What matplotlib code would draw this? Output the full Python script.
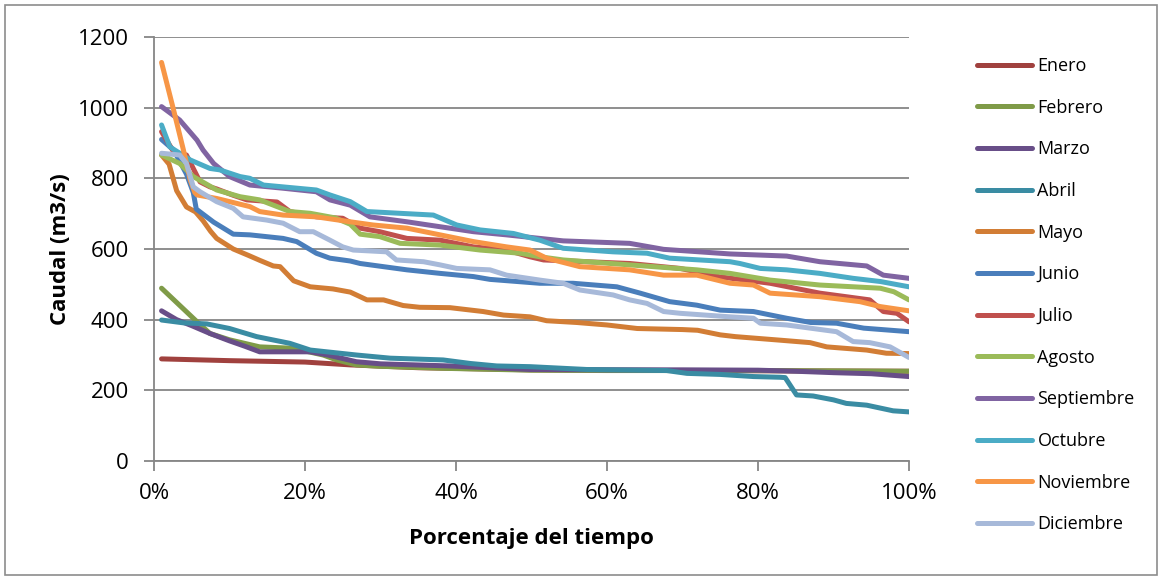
import matplotlib
matplotlib.use("Agg")
import matplotlib.pyplot as plt
from matplotlib.ticker import FuncFormatter
from matplotlib.patches import Rectangle

plt.rcParams['font.family'] = ['Open Sans', 'DejaVu Sans']

months = ["Enero", "Febrero", "Marzo", "Abril", "Mayo", "Junio", "Julio",
          "Agosto", "Septiembre", "Octubre", "Noviembre", "Diciembre"]
colors = ["#A0413E", "#7F9B48", "#684E88", "#3A8CA3", "#D27D35", "#4A7EBB",
          "#C0504D", "#9BBB59", "#8064A2", "#4BACC6", "#F79646", "#A7B9D9"]

enero_x = [1, 10, 20, 26, 35, 50, 70, 100]
enero_y = [289, 284, 280, 272, 264, 258, 256, 254]

febrero_x = [1, 5.7, 7.4, 10, 14, 18.5, 20.7, 22.4, 24.2, 26.8, 30, 39, 50, 60, 70, 80, 90, 100]
febrero_y = [489, 394, 361, 343, 323, 319, 308, 300, 286, 272, 268, 262, 257, 256, 256, 256, 255, 254]

marzo_x = [1, 3, 5, 7.4, 10, 12, 14, 20.7, 23, 26.8, 30, 39.2, 49.8, 60, 70, 80, 85, 90, 95, 100]
marzo_y = [425, 400, 383, 361, 340, 325, 309, 309, 300, 281, 275, 269, 259, 258, 258, 257, 254, 250, 247, 239]

abril_x = [1, 3.9, 7, 10, 13.6, 18, 20.7, 26.8, 31.3, 38.3, 41.9, 45.4, 49.8, 57.3, 67.9, 70.6,
           75, 79.4, 82.9, 83.6, 85.1, 87.3, 90, 91.7, 94.4, 97.9, 100]
abril_y = [399, 391, 388, 375, 352, 333, 314, 300, 291, 286, 276, 269, 267, 259, 256, 248,
           245, 239, 237, 236, 187, 184, 173, 163, 158, 142, 139]

mayo_x = [1, 2, 3, 4.3, 5.5, 6.5, 7.5, 8.3, 10.5, 12.5, 14, 15.8, 16.7, 18.5, 20.7, 23.7, 26,
          28.2, 30.4, 33, 35.2, 39.2, 43.6, 46.3, 49.8, 52, 56, 60, 62, 64, 70, 72, 75, 77,
          82.9, 86.9, 89.1, 94.4, 97, 100]
mayo_y = [866, 840, 765, 719, 705, 680, 650, 630, 600, 582, 568, 552, 550, 510, 493, 487, 478,
          456, 456, 440, 435, 434, 423, 413, 408, 397, 392, 385, 380, 375, 372, 370, 357, 352,
          342, 335, 323, 314, 305, 304]

junio_x = [1, 2.6, 3.9, 4.3, 5.2, 5.6, 7.9, 10.5, 12.7, 17.1, 18.9, 21.5, 23.3, 26, 27.3, 33.5,
           37.9, 42.3, 44.5, 51.1, 55.5, 61.3, 64.4, 68.3, 71.9, 75, 79.4, 83.8, 87, 90.4, 94, 100]
junio_y = [910, 880, 828, 812, 760, 713, 676, 642, 640, 630, 621, 588, 574, 566, 559, 541,
           531, 522, 514, 503, 503, 493, 475, 451, 441, 427, 423, 404, 392, 390, 376, 366]

julio_x = [1, 2.6, 4.3, 6.1, 7.4, 8.3, 10.5, 12.3, 16.3, 18, 21.5, 25, 27.3, 29.9, 33.5, 37.9,
           42.3, 46.7, 49.8, 51.6, 63, 69.7, 75, 81.6, 88.2, 94.8, 96.6, 98.4, 100]
julio_y = [932, 875, 866, 790, 776, 770, 752, 739, 733, 706, 691, 687, 659, 649, 630, 625,
           606, 597, 578, 569, 559, 545, 521, 503, 475, 456, 423, 418, 394]

agosto_x = [1, 3.4, 5.2, 8.3, 11.4, 14, 18, 20.7, 24, 26, 27.3, 29.9, 32.6, 37.9, 43.2, 48.5,
            51.1, 54.2, 63, 71.9, 76.3, 81.6, 88.2, 96.2, 98, 100]
agosto_y = [866, 842, 805, 767, 748, 739, 706, 701, 688, 670, 642, 635, 616, 611, 597, 588,
            578, 569, 555, 541, 531, 512, 498, 489, 479, 456]

septiembre_x = [1, 3.4, 5.7, 6.5, 7.9, 10, 12.7, 17.1, 21.5, 23.3, 26, 28.6, 33.5, 37.9, 42.3,
                46.7, 51.1, 54.2, 63, 67.5, 76.3, 83.8, 88.2, 94.4, 96.6, 100]
septiembre_y = [1003, 965, 908, 880, 842, 805, 781, 772, 762, 739, 724, 691, 677, 663, 649,
                640, 630, 623, 616, 599, 586, 580, 564, 552, 526, 517]

octubre_x = [1, 2.1, 4.8, 7.4, 8.7, 11.4, 12.7, 14.5, 21.5, 23.3, 26, 28.2, 37, 40.1, 43.2,
             47.6, 51.1, 54.2, 60.8, 65.3, 68.3, 76.3, 77.6, 80.3, 83.8, 88.2, 92.6, 96.2, 100]
octubre_y = [951, 889, 852, 828, 824, 805, 800, 781, 767, 753, 734, 706, 696, 668, 654,
             644, 625, 602, 592, 588, 574, 564, 559, 545, 541, 531, 517, 508, 493]

noviembre_x = [1, 2.6, 3.9, 4.8, 5.4, 5.7, 8.3, 12.7, 14, 17.1, 21.5, 26, 29, 33.5, 37.9, 42.3,
               46.7, 49.8, 52, 56.4, 63, 67.5, 71.9, 76.3, 79.4, 81.6, 88.2, 93.5, 96.2, 100]
noviembre_y = [1128, 993, 880, 795, 760, 753, 743, 720, 706, 696, 691, 677, 668, 659, 640, 621,
               606, 597, 574, 550, 541, 526, 526, 503, 498, 475, 465, 451, 437, 425]

diciembre_x = [1, 3.4, 4.3, 5.2, 6.1, 8.3, 10.5, 11.8, 14.9, 17.1, 19.3, 21.1, 23.3, 25, 26.4,
               30.8, 32.1, 35.7, 37.9, 40.1, 44.5, 46.7, 51.1, 54.2, 56.4, 60.8, 63, 65.3, 67.5,
               69.7, 76.3, 79.4, 80.3, 83.8, 90.4, 92.6, 94.8, 97.5, 100]
diciembre_y = [871, 866, 842, 776, 762, 734, 715, 691, 682, 673, 649, 649, 625, 606, 597,
               592, 569, 564, 555, 545, 541, 526, 512, 503, 484, 470, 456, 446, 423,
               418, 408, 404, 390, 385, 366, 338, 335, 323, 293]

series_x = [enero_x, febrero_x, marzo_x, abril_x, mayo_x, junio_x, julio_x, agosto_x,
            septiembre_x, octubre_x, noviembre_x, diciembre_x]
series_y = [enero_y, febrero_y, marzo_y, abril_y, mayo_y, junio_y, julio_y, agosto_y,
            septiembre_y, octubre_y, noviembre_y, diciembre_y]

yticks = [0, 200, 400, 600, 800, 1000, 1200]
xticks = [0, 20, 40, 60, 80, 100]

W, H = 1164, 579
fig = plt.figure(figsize=(W / 100, H / 100), dpi=100)
ax = fig.add_axes([154 / W, (H - 461) / H, (909 - 154) / W, (461 - 37) / H])

grid_c = "#868686"
for name, xs, ys, c in zip(months, series_x, series_y, colors):
    ax.plot(xs, ys, color=c, lw=3.6, label=name, solid_joinstyle="round",
            solid_capstyle="round")

ax.set_xlim(0, 100)
ax.set_ylim(0, 1200)
ax.set_yticks(yticks)
ax.set_xticks(xticks)
ax.xaxis.set_major_formatter(FuncFormatter(lambda v, p: f"{v:.0f}%"))
ax.yaxis.grid(True, color=grid_c, lw=1.3)
ax.set_axisbelow(True)
for s in ["top", "right"]:
    ax.spines[s].set_visible(False)
for s in ["left", "bottom"]:
    ax.spines[s].set_color(grid_c)
    ax.spines[s].set_linewidth(1.3)
ax.tick_params(axis="both", direction="out", length=7, width=1.3, color=grid_c,
               labelsize=16, labelcolor="black")
ax.tick_params(axis="x", pad=9)
ax.tick_params(axis="y", pad=11)
ax.set_xlabel("Porcentaje del tiempo", fontsize=16, fontweight="bold", labelpad=17)
ax.set_ylabel("Caudal (m3/s)", fontsize=16, fontweight="bold", labelpad=5)

fig.legend(loc="upper left", bbox_to_anchor=(977 / W, 1 - 57 / H), frameon=False,
           fontsize=13, handlelength=3.05, handletextpad=0.3, labelspacing=1.31,
           borderaxespad=0, borderpad=0)

fig.patches.append(Rectangle((5 / W, 4 / H), 1152 / W, 570 / H, transform=fig.transFigure,
                             fill=False, edgecolor="#8C8C8C", lw=1.2))

fig.savefig("out.png", dpi=100)
